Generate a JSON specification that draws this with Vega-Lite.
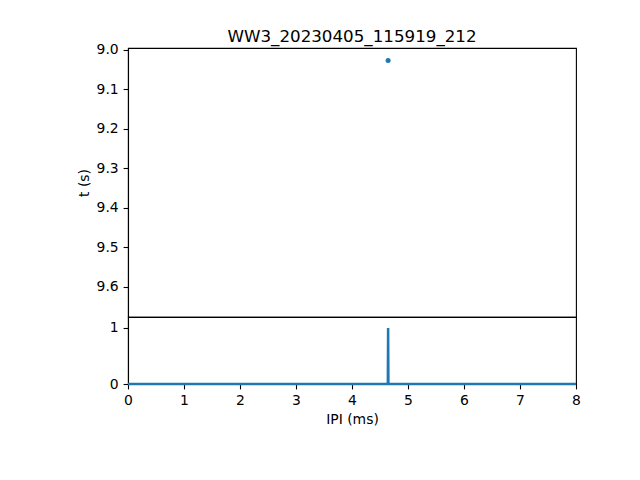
{
  "$schema": "https://vega.github.io/schema/vega-lite/v6.json",
  "autosize": {"type": "pad"},
  "padding": {"left": 76, "top": 28, "right": 64, "bottom": 50},
  "background": "white",
  "bounds": "flush",
  "spacing": 0,
  "config": {
    "font": "DejaVu Sans",
    "view": {"stroke": "black", "strokeWidth": 1.1},
    "axis": {
      "labelFont": "DejaVu Sans",
      "titleFont": "DejaVu Sans",
      "labelFontSize": 13.9,
      "titleFontSize": 13.9,
      "titleFontWeight": "normal",
      "labelColor": "black",
      "titleColor": "black",
      "tickColor": "black",
      "domainColor": "black",
      "domainWidth": 1.1,
      "tickWidth": 1.1,
      "tickSize": 4.9,
      "labelPadding": 4.9,
      "grid": false,
      "labelFlush": false,
      "labelOverlap": false
    },
    "title": {"font": "DejaVu Sans", "fontSize": 16.7, "fontWeight": "normal", "color": "black", "offset": -3}
  },
  "datasets": {
    "clicks": [{"ipi": 4.645, "t": 9.027}],
    "hist": [
      {"ipi": 0.0, "count": 0},
      {"ipi": 4.64, "count": 0},
      {"ipi": 4.645, "count": 1},
      {"ipi": 4.65, "count": 0},
      {"ipi": 8.0, "count": 0}
    ]
  },
  "vconcat": [
    {
      "title": {"text": "WW3_20230405_115919_212"},
      "width": 448,
      "height": 269,
      "data": {"name": "clicks"},
      "mark": {"type": "point", "filled": true, "size": 25, "color": "#1f77b4", "opacity": 1},
      "encoding": {
        "x": {"field": "ipi", "type": "quantitative", "scale": {"domain": [0, 8], "nice": false, "zero": false}, "axis": null},
        "y": {
          "field": "t", "type": "quantitative",
          "scale": {"domain": [9.6759, 8.9957], "nice": false, "zero": false},
          "axis": {"title": "t (s)", "values": [9.0, 9.1, 9.2, 9.3, 9.4, 9.5, 9.6], "format": ".1f", "titlePadding": 5}
        }
      }
    },
    {
      "width": 448,
      "height": 67,
      "data": {"name": "hist"},
      "mark": {"type": "line", "color": "#1f77b4", "strokeWidth": 2.5},
      "encoding": {
        "x": {
          "field": "ipi", "type": "quantitative",
          "scale": {"domain": [0, 8], "nice": false, "zero": false},
          "axis": {"title": "IPI (ms)", "values": [0, 1, 2, 3, 4, 5, 6, 7, 8], "format": "d", "titlePadding": 5}
        },
        "y": {
          "field": "count", "type": "quantitative",
          "scale": {"domain": [0, 1.196], "nice": false, "zero": false},
          "axis": {"title": null, "values": [0, 1], "format": "d"}
        }
      }
    }
  ]
}
